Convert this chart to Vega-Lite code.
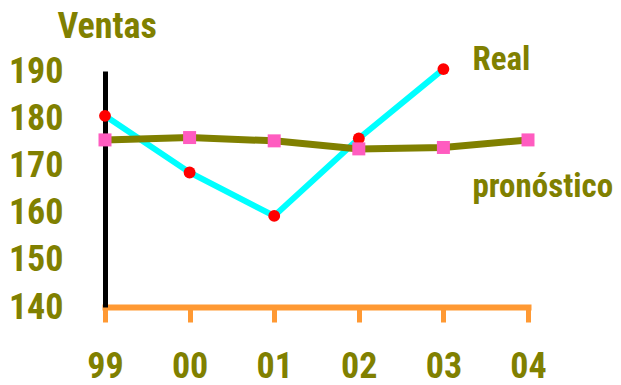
{
  "$schema": "https://vega.github.io/schema/vega-lite/v6.json",
  "autosize": {"type": "none"},
  "width": 423,
  "height": 236,
  "padding": {"left": 105, "top": 71, "right": 93, "bottom": 78},
  "background": "white",
  "config": {
    "view": {"stroke": null},
    "font": "Roboto Condensed, Noto Sans Condensed, Open Sans Condensed, Liberation Sans, sans-serif"
  },
  "datasets": {
    "ventas": [
      {"anio": "99", "serie": "Real", "valor": 180.5},
      {"anio": "00", "serie": "Real", "valor": 168.5},
      {"anio": "01", "serie": "Real", "valor": 159.3},
      {"anio": "02", "serie": "Real", "valor": 175.7},
      {"anio": "03", "serie": "Real", "valor": 190.4},
      {"anio": "99", "serie": "pronóstico", "valor": 175.4},
      {"anio": "00", "serie": "pronóstico", "valor": 175.9},
      {"anio": "01", "serie": "pronóstico", "valor": 175.2},
      {"anio": "02", "serie": "pronóstico", "valor": 173.5},
      {"anio": "03", "serie": "pronóstico", "valor": 173.8},
      {"anio": "04", "serie": "pronóstico", "valor": 175.4}
    ],
    "etiquetas": [
      {"anio": "03", "texto": "Real", "valor": 192.3},
      {"anio": "03", "texto": "pronóstico", "valor": 165.4}
    ]
  },
  "encoding": {
    "x": {
      "field": "anio",
      "type": "ordinal",
      "scale": {"type": "point", "padding": 0, "domain": ["99", "00", "01", "02", "03", "04"]},
      "axis": {
        "title": null,
        "orient": "bottom",
        "domainColor": "#FF9933",
        "domainWidth": 6,
        "domainCap": "square",
        "tickColor": "#FF9933",
        "tickWidth": 5,
        "tickSize": 15,
        "tickCap": "butt",
        "labelColor": "#808000",
        "labelFontWeight": "bold",
        "labelFontSize": 36,
        "labelPadding": 27,
        "labelAngle": 0,
        "labelBaseline": "top",
        "zindex": 0
      }
    },
    "y": {
      "field": "valor",
      "type": "quantitative",
      "scale": {"domain": [140, 190], "nice": false, "zero": false},
      "axis": {
        "title": "Ventas",
        "titleAngle": 0,
        "titleAlign": "left",
        "titleBaseline": "alphabetic",
        "titleX": -48,
        "titleY": -34,
        "titleColor": "#808000",
        "titleFontWeight": "bold",
        "titleFontSize": 36,
        "values": [140, 150, 160, 170, 180, 190],
        "ticks": false,
        "grid": false,
        "domainColor": "black",
        "domainWidth": 5,
        "labelColor": "#808000",
        "labelFontWeight": "bold",
        "labelFontSize": 36,
        "labelPadding": 42,
        "labelBaseline": "middle",
        "labelFlush": false,
        "zindex": 0
      }
    }
  },
  "layer": [
    {
      "data": {"name": "ventas"},
      "transform": [{"filter": "datum.serie === 'Real'"}],
      "mark": {"type": "line", "color": "#00FFFF", "strokeWidth": 6}
    },
    {
      "data": {"name": "ventas"},
      "transform": [{"filter": "datum.serie === 'pronóstico'"}],
      "mark": {"type": "line", "color": "#808000", "strokeWidth": 7}
    },
    {
      "data": {"name": "ventas"},
      "transform": [{"filter": "datum.serie === 'Real'"}],
      "mark": {"type": "point", "shape": "circle", "filled": true, "color": "#FF0000", "size": 140, "opacity": 1}
    },
    {
      "data": {"name": "ventas"},
      "transform": [{"filter": "datum.serie === 'pronóstico'"}],
      "mark": {"type": "point", "shape": "square", "filled": true, "color": "#FF5CC0", "size": 169, "opacity": 1}
    },
    {
      "data": {"name": "etiquetas"},
      "mark": {
        "type": "text",
        "align": "left",
        "baseline": "middle",
        "dx": 29,
        "color": "#808000",
        "fontWeight": "bold",
        "fontSize": 33
      },
      "encoding": {"text": {"field": "texto"}}
    }
  ]
}
